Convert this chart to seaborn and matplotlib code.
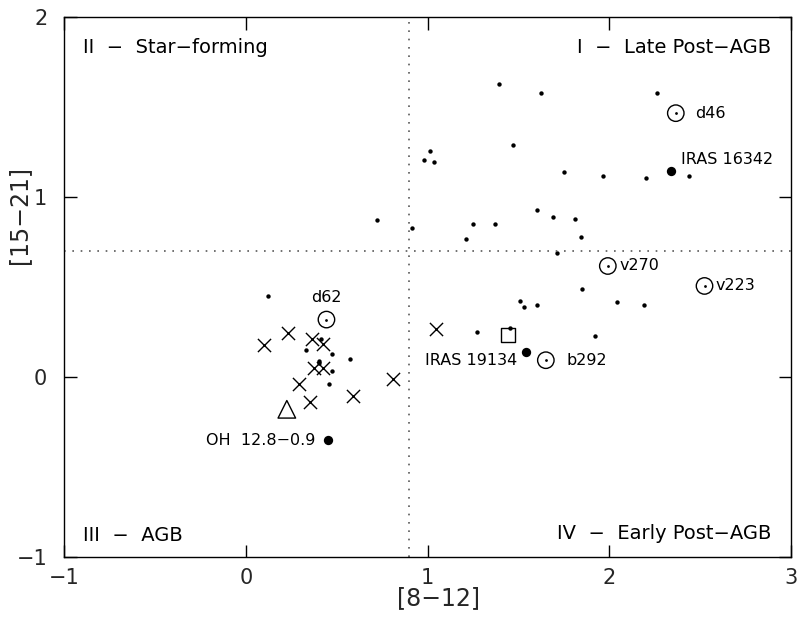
import pandas as pd
import seaborn as sns
import matplotlib.pyplot as plt

# IRAS colour-colour data
dot_x = [1.392, 1.623, 2.260, 1.473, 1.014, 0.981, 1.033, 1.752, 1.963, 2.201, 2.441,
         1.601, 1.691, 1.811, 1.842, 1.253, 1.372, 1.212, 0.913, 1.712, 0.723,
         1.851, 1.511, 1.532, 1.601, 2.044, 2.192, 1.273, 1.453, 1.922,
         0.123, 0.413, 0.332, 0.473, 0.574, 0.403, 0.403, 0.473, 0.460]
dot_y = [1.630, 1.578, 1.578, 1.289, 1.259, 1.209, 1.198, 1.137, 1.119, 1.108, 1.119,
         0.928, 0.889, 0.878, 0.778, 0.850, 0.850, 0.769, 0.828, 0.691, 0.871,
         0.489, 0.422, 0.389, 0.400, 0.419, 0.400, 0.250, 0.270, 0.230,
         0.448, 0.213, 0.152, 0.128, 0.102, 0.091, 0.075, 0.032, -0.039]

cross_x = [0.235, 0.101, 0.363, 0.427, 0.378, 0.427, 0.293, 0.812, 0.592, 0.354, 1.046]
cross_y = [0.247, 0.176, 0.209, 0.185, 0.050, 0.050, -0.037, -0.014, -0.107, -0.139, 0.269]

ring_names = ["d46", "v270", "v223", "b292", "d62"]
ring_x = [2.366, 1.992, 2.524, 1.651, 0.444]
ring_y = [1.467, 0.617, 0.506, 0.093, 0.319]

big_names = ["IRAS 16342", "IRAS 19134", "OH 12.8−0.9"]
big_x = [2.342, 1.543, 0.455]
big_y = [1.148, 0.141, -0.352]

tri_x, tri_y = [0.226], [-0.180]
sq_x, sq_y = [1.442], [0.232]

x_cut, y_cut = 0.9, 0.7

sns.set_style("ticks")
plt.rcParams["font.family"] = ["DejaVu Sans"]

fig = plt.figure(figsize=(7.97, 6.19), dpi=100)
ax = fig.add_axes([0.0803, 0.1006, 0.9122, 0.8714])

dots = pd.DataFrame({"x": dot_x, "y": dot_y})
crosses = pd.DataFrame({"x": cross_x, "y": cross_y})
rings = pd.DataFrame({"x": ring_x, "y": ring_y, "name": ring_names})
bigs = pd.DataFrame({"x": big_x, "y": big_y, "name": big_names})

sns.scatterplot(data=dots, x="x", y="y", ax=ax, s=10, color="black", linewidth=0)
sns.scatterplot(data=crosses, x="x", y="y", ax=ax, marker="x", s=90, color="black", linewidth=1)
sns.scatterplot(data=rings, x="x", y="y", ax=ax, s=140, facecolor="none", edgecolor="black", linewidth=1)
sns.scatterplot(data=rings, x="x", y="y", ax=ax, s=4, color="black", linewidth=0)
sns.scatterplot(data=bigs, x="x", y="y", ax=ax, s=45, color="black", linewidth=0)
sns.scatterplot(x=tri_x, y=tri_y, ax=ax, marker="^", s=160, facecolor="none", edgecolor="black", linewidth=1)
sns.scatterplot(x=sq_x, y=sq_y, ax=ax, marker="s", s=110, facecolor="none", edgecolor="black", linewidth=1)

ax.axvline(x_cut, color="0.35", linestyle=(0, (1, 4)), linewidth=1.2)
ax.axhline(y_cut, color="0.35", linestyle=(0, (1, 4)), linewidth=1.2)

# point labels
lab = dict(fontsize=11.5, color="black", va="center")
ax.text(2.47, 1.467, "d46", ha="left", **lab)
ax.text(2.396, 1.21, "IRAS 16342", ha="left", **lab)
ax.text(2.055, 0.617, "v270", ha="left", **lab)
ax.text(2.585, 0.506, "v223", ha="left", **lab)
ax.text(1.767, 0.093, "b292", ha="left", **lab)
ax.text(1.491, 0.089, "IRAS 19134", ha="right", **lab)
ax.text(0.442, 0.444, "d62", ha="center", **lab)
ax.text(0.381, -0.356, "OH  12.8−0.9", ha="right", **lab)

# quadrant labels
q = dict(fontsize=14, color="black", va="center", transform=ax.transAxes)
ax.text(0.026, 0.944, "II  −  Star−forming", ha="left", **q)
ax.text(0.973, 0.944, "I  −  Late Post−AGB", ha="right", **q)
ax.text(0.026, 0.040, "III  −  AGB", ha="left", **q)
ax.text(0.973, 0.043, "IV  −  Early Post−AGB", ha="right", **q)

ax.set_xlim(-1, 3)
ax.set_ylim(-1, 2)
ax.set_xticks([-1, 0, 1, 2, 3])
ax.set_yticks([-1, 0, 1, 2])
ax.tick_params(direction="in", length=9, width=1, top=True, right=True,
               labelsize=15, color="black")
ax.tick_params(axis="x", pad=8)
ax.tick_params(axis="y", pad=12)
for sp in ax.spines.values():
    sp.set_linewidth(1)
    sp.set_color("black")

ax.set_xlabel("[8−12]", fontsize=17)
ax.set_ylabel("[15−21]", fontsize=17)
ax.xaxis.set_label_coords(0.515, -0.055)
ax.yaxis.set_label_coords(-0.045, 0.633)

fig.savefig("out.png", dpi=100)
